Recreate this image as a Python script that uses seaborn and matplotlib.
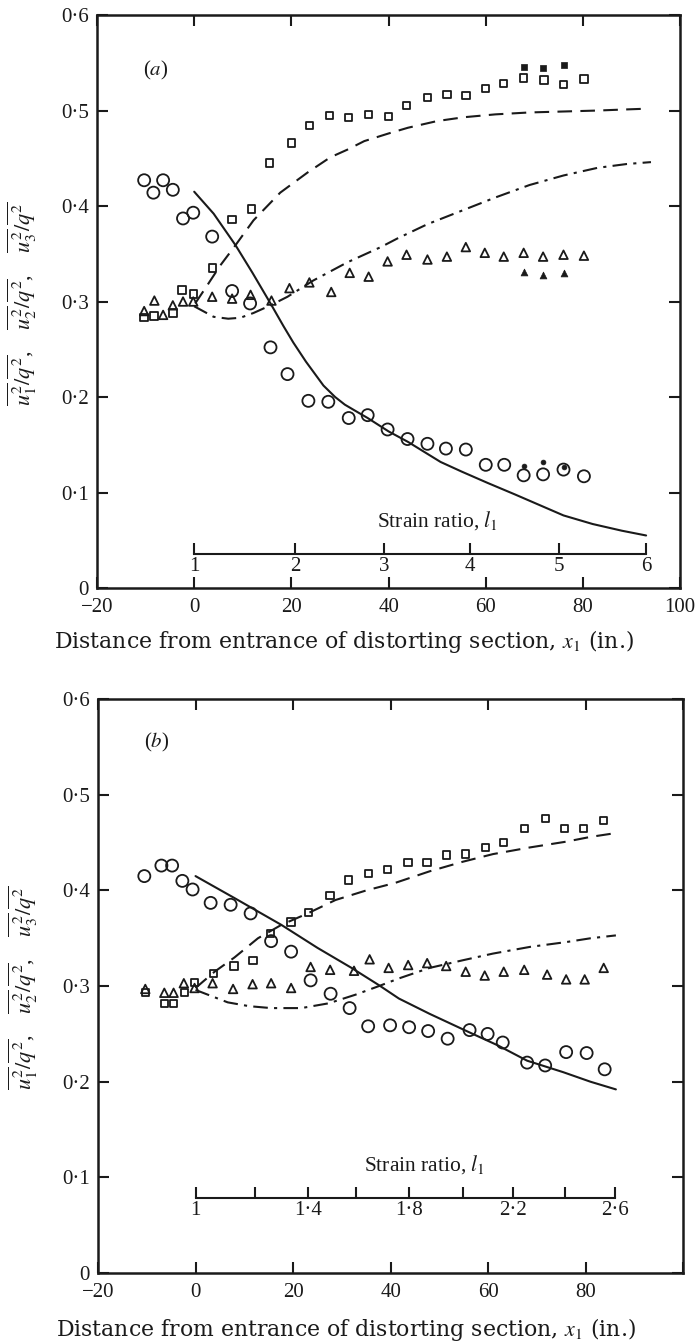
import numpy as np
import pandas as pd
import seaborn as sns
import matplotlib.pyplot as plt

# ---- data: panel (a) ----
xa_circ = [-10.3, -8.4, -6.4, -4.4, -2.3, -0.2, 3.7, 7.8, 11.5, 15.7, 19.2, 23.5, 27.6,
           31.8, 35.7, 39.8, 43.9, 48.0, 51.8, 55.9, 60.0, 63.8, 67.8, 71.8, 76.0, 80.2]
ya_circ = [0.427, 0.414, 0.427, 0.417, 0.387, 0.393, 0.368, 0.311, 0.298, 0.252, 0.224, 0.196, 0.195,
           0.178, 0.181, 0.166, 0.156, 0.151, 0.146, 0.145, 0.129, 0.129, 0.118, 0.119, 0.124, 0.117]
xa_sq = [-10.3, -8.3, -4.4, -2.5, -0.2, 3.7, 7.8, 11.8, 15.5, 20.0, 23.7, 27.9, 31.8,
         35.9, 40.0, 43.7, 48.0, 52.0, 55.9, 60.0, 63.7, 67.8, 72.0, 76.0, 80.2]
ya_sq = [0.283, 0.285, 0.288, 0.312, 0.308, 0.335, 0.386, 0.397, 0.445, 0.466, 0.484, 0.495, 0.493,
         0.496, 0.494, 0.505, 0.514, 0.517, 0.516, 0.523, 0.528, 0.534, 0.532, 0.527, 0.533]
xa_tri = [-10.3, -8.2, -6.4, -4.4, -2.3, -0.2, 3.7, 7.8, 11.6, 15.9, 19.6, 23.7, 28.2,
          32.0, 35.9, 39.8, 43.7, 48.0, 52.0, 55.9, 59.8, 63.7, 67.8, 71.8, 76.0, 80.2]
ya_tri = [0.290, 0.301, 0.286, 0.296, 0.300, 0.300, 0.305, 0.303, 0.307, 0.301, 0.314, 0.320, 0.310,
          0.330, 0.326, 0.342, 0.349, 0.344, 0.347, 0.357, 0.351, 0.347, 0.351, 0.347, 0.349, 0.348]
# filled symbols
xa_fill = [67.8, 71.8, 76.0]
ya_fill_sq = [0.546, 0.545, 0.548]
ya_fill_circ = [0.128, 0.132, 0.127]
ya_fill_tri = [0.331, 0.328, 0.330]

# theory curves (a)
xa_u1 = [0, 4, 8.5, 12, 15.7, 18.4, 20.4, 23, 26.6, 29, 31, 33, 35.7, 40, 44, 50.7, 55, 60.4,
         66, 71, 76, 82, 88, 93]
ya_u1 = [0.415, 0.392, 0.359, 0.330, 0.298, 0.274, 0.257, 0.237, 0.212, 0.200, 0.192, 0.186, 0.178,
         0.164, 0.153, 0.132, 0.122, 0.110, 0.098, 0.087, 0.076, 0.067, 0.060, 0.055]
xa_u3 = [0.2, 2.3, 5.4, 8.5, 12.2, 17.7, 23.3, 28, 31.5, 35, 40, 44, 50, 55.5, 62, 69, 76, 83, 88, 93.4]
ya_u3 = [0.298, 0.314, 0.338, 0.359, 0.385, 0.414, 0.435, 0.451, 0.459, 0.468, 0.476, 0.482, 0.489,
         0.493, 0.496, 0.498, 0.499, 0.500, 0.501, 0.502]
xa_u2 = [0, 4, 7, 9.5, 12.2, 15.7, 19.2, 24.5, 31.5, 38.4, 41.8, 48, 55.5, 62, 69, 76, 83, 89, 94]
ya_u2 = [0.295, 0.284, 0.282, 0.283, 0.288, 0.296, 0.305, 0.322, 0.341, 0.357, 0.366, 0.381, 0.396,
         0.409, 0.422, 0.432, 0.440, 0.444, 0.446]

# strain ratio scale (a)
strain_la = ['1', '2', '3', '4', '5', '6']
strain_xa = [0, 20.8, 39, 56.7, 75, 93]

# ---- data: panel (b) ----
xb_circ = [-10.5, -7.0, -4.8, -2.7, -0.6, 3.1, 7.2, 11.3, 15.5, 19.6, 23.6, 27.7, 31.6,
           35.4, 39.9, 43.8, 47.7, 51.7, 56.2, 59.9, 63.0, 68.0, 71.7, 76.0, 80.2, 83.9]
yb_circ = [0.415, 0.426, 0.426, 0.410, 0.401, 0.387, 0.385, 0.376, 0.347, 0.336, 0.306, 0.292, 0.277,
           0.258, 0.259, 0.257, 0.253, 0.245, 0.254, 0.250, 0.241, 0.220, 0.217, 0.231, 0.230, 0.213]
xb_sq = [-10.3, -6.4, -4.5, -2.3, -0.2, 3.7, 7.9, 11.8, 15.4, 19.6, 23.2, 27.6, 31.4,
         35.5, 39.4, 43.6, 47.5, 51.4, 55.4, 59.5, 63.2, 67.4, 71.7, 75.6, 79.5, 83.7]
yb_sq = [0.293, 0.282, 0.282, 0.293, 0.304, 0.313, 0.321, 0.327, 0.355, 0.367, 0.377, 0.395, 0.411,
         0.418, 0.422, 0.429, 0.429, 0.437, 0.438, 0.445, 0.450, 0.465, 0.475, 0.465, 0.465, 0.473]
xb_tri = [-10.3, -6.4, -4.5, -2.4, -0.2, 3.5, 7.7, 11.7, 15.5, 19.6, 23.6, 27.6, 32.5,
          35.7, 39.6, 43.6, 47.5, 51.4, 55.4, 59.3, 63.2, 67.4, 72.1, 76.0, 79.8, 83.7]
yb_tri = [0.297, 0.293, 0.293, 0.303, 0.298, 0.303, 0.297, 0.302, 0.303, 0.298, 0.320, 0.317, 0.316,
          0.328, 0.319, 0.322, 0.324, 0.321, 0.315, 0.311, 0.315, 0.317, 0.312, 0.307, 0.307, 0.319]

xb_u1 = [0, 8, 17.6, 25, 32, 37.6, 41.7, 48, 56, 62, 68, 75.4, 81, 86.2]
yb_u1 = [0.415, 0.392, 0.364, 0.340, 0.319, 0.301, 0.287, 0.271, 0.252, 0.238, 0.222, 0.210, 0.200, 0.192]
xb_u3 = [0, 3.9, 8, 12.8, 17.6, 23, 28.7, 35, 41, 48, 54.8, 61, 68.6, 76, 81, 86.2]
yb_u3 = [0.298, 0.315, 0.330, 0.350, 0.364, 0.376, 0.390, 0.400, 0.408, 0.420, 0.430, 0.438,
         0.445, 0.451, 0.456, 0.460]
xb_u2 = [0, 6.6, 11, 15.5, 21.7, 27.3, 32.8, 37.6, 41.7, 48, 54.8, 61, 68.6, 76, 81, 86.2]
yb_u2 = [0.296, 0.283, 0.279, 0.277, 0.277, 0.282, 0.291, 0.300, 0.308, 0.319, 0.327, 0.334,
         0.341, 0.346, 0.350, 0.353]

strain_lb = ['1', '', '1·4', '', '1·8', '', '2·2', '', '2·6']
strain_xb = [0, 12.2, 23, 33, 43.8, 54.8, 65, 75.8, 86]

yticks = [0, 0.1, 0.2, 0.3, 0.4, 0.5, 0.6]
ytick_labels = ['0', '0·1', '0·2', '0·3', '0·4', '0·5', '0·6']

sns.set_theme(style='ticks')
plt.rcParams['font.family'] = ['Liberation Serif', 'DejaVu Serif']
plt.rcParams['mathtext.fontset'] = 'stix'
plt.rcParams['text.color'] = 'k'
plt.rcParams['axes.labelcolor'] = 'k'

fig = plt.figure(figsize=(6.95, 13.44), dpi=100)
ax1 = fig.add_axes([0.1396, 0.5625, 0.839, 0.4263])
ax2 = fig.add_axes([0.141, 0.0528, 0.842, 0.427])

ylab = (r'$\overline{u_1^2}/\overline{q^2}$,    '
        r'$\overline{u_2^2}/\overline{q^2}$,    '
        r'$\overline{u_3^2}/\overline{q^2}$')
xlab = r'Distance from entrance of distorting section, $x_1$ (in.)'


def open_pts(ax, x, y, marker, s):
    sns.scatterplot(x=x, y=y, marker=marker, s=s, facecolor='none', edgecolor='k',
                    linewidth=1.3, ax=ax, zorder=3)


def filled_pts(ax, x, y, marker, s):
    sns.scatterplot(x=x, y=y, marker=marker, s=s, color='k', edgecolor='k',
                    linewidth=0.5, ax=ax, zorder=3)


def curve(ax, x, y, ls):
    sns.lineplot(x=x, y=y, color='k', linewidth=1.5, linestyle=ls, sort=False,
                 estimator=None, ax=ax, zorder=2)


def style_axes(ax, xticks, xlabels, strain_x, strain_l, strain_y, strain_text_xy, panel, label_y):
    ax.set_xlim(-20, 100)
    ax.set_ylim(0, 0.6)
    ax.set_xticks(xticks, xlabels)
    ax.set_yticks(yticks, ytick_labels)
    ax.tick_params(direction='in', length=8, width=1.5, top=True, right=True,
                   labelsize=15, colors='k')
    ax.tick_params(axis='x', pad=7)
    ax.tick_params(axis='y', pad=6)
    for s in ax.spines.values():
        s.set_linewidth(1.8)
        s.set_color('k')
    ax.set_xlabel(xlab, fontsize=15.8, family=['DejaVu Serif'])
    ax.xaxis.set_label_coords(0.424, label_y)
    ax.set_ylabel(ylab, fontsize=16)
    ax.yaxis.set_label_coords(-0.099, 0.497)
    ax.text(-8, panel[1], panel[0], fontsize=15, ha='center', va='center')
    ax.text(strain_text_xy[0], strain_text_xy[1], r'Strain ratio, $l_1$', fontsize=15.5,
            ha='center', va='center')
    # secondary strain-ratio scale drawn as a thin inset axis
    sa = ax.inset_axes([0, strain_y, strain_x[-1], 0.02], transform=ax.transData)
    sa.set_xlim(0, strain_x[-1])
    sa.set_ylim(0, 1)
    sa.patch.set_visible(False)
    for s in ['top', 'left', 'right']:
        sa.spines[s].set_visible(False)
    sa.spines['bottom'].set_linewidth(1.5)
    sa.spines['bottom'].set_color('k')
    sa.set_yticks([])
    sa.set_xticks(strain_x, strain_l)
    sa.tick_params(axis='x', direction='in', length=8, width=1.5, pad=2, labelsize=15, colors='k')
    sa.grid(False)


# panel (a)
curve(ax1, xa_u1, ya_u1, '-')
curve(ax1, xa_u3, ya_u3, (0, (7, 4)))
curve(ax1, xa_u2, ya_u2, (0, (7, 3, 1.5, 3)))
open_pts(ax1, xa_circ, ya_circ, 'o', 75)
open_pts(ax1, xa_sq, ya_sq, 's', 28)
open_pts(ax1, xa_tri, ya_tri, '^', 38)
filled_pts(ax1, xa_fill, ya_fill_sq, 's', 16)
filled_pts(ax1, xa_fill, ya_fill_circ, 'o', 12)
filled_pts(ax1, xa_fill, ya_fill_tri, '^', 24)
style_axes(ax1, [-20, 0, 20, 40, 60, 80, 100], ['−20', '0', '20', '40', '60', '80', '100'],
           strain_xa, strain_la, 0.0356, (50, 0.071), ('($a$)', 0.542), -0.07)

# panel (b)
curve(ax2, xb_u1, yb_u1, '-')
curve(ax2, xb_u3, yb_u3, (0, (7, 4)))
curve(ax2, xb_u2, yb_u2, (0, (7, 3, 1.5, 3)))
open_pts(ax2, xb_circ, yb_circ, 'o', 75)
open_pts(ax2, xb_sq, yb_sq, 's', 28)
open_pts(ax2, xb_tri, yb_tri, '^', 38)
style_axes(ax2, [-20, 0, 20, 40, 60, 80, 100], ['−20', '0', '20', '40', '60', '80', ''],
           strain_xb, strain_lb, 0.0785, (47, 0.113), ('($b$)', 0.555), -0.074)

fig.savefig('out.png', dpi=100)
